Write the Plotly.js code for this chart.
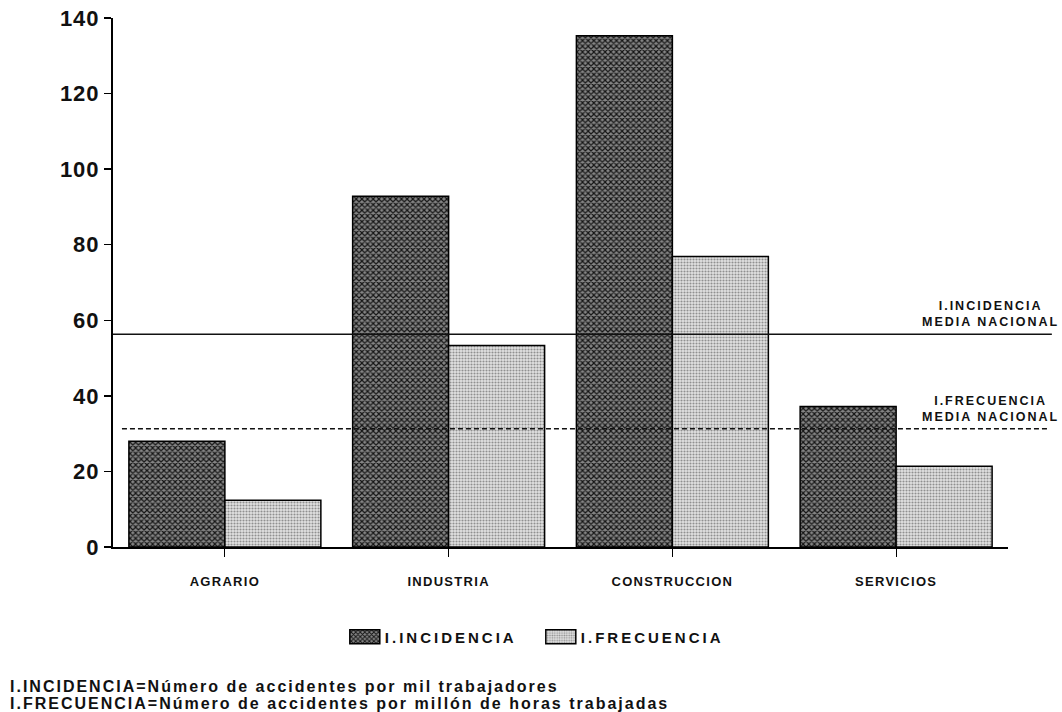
<!DOCTYPE html>
<html>
<head>
<meta charset="utf-8">
<script src="https://cdn.plot.ly/plotly-3.0.1.min.js"></script>
<style>
  html, body { margin: 0; padding: 0; background: #fff; }
  #chart { width: 1062px; height: 712px; }
  .xtick text { letter-spacing: 1.3px; }
  .ytick text { letter-spacing: 1px; }
  .legendtext { letter-spacing: 3px; }
  .annotation-text { letter-spacing: 2px; }
</style>
</head>
<body>
<div id="chart"></div>
<script>
// ---- data ----
const categories = ['AGRARIO', 'INDUSTRIA', 'CONSTRUCCION', 'SERVICIOS'];
const incidencia = [28, 92.8, 135.3, 37.2];
const frecuencia = [12.4, 53.3, 76.9, 21.4];
const seriesNames = ['I.INCIDENCIA', 'I.FRECUENCIA'];
const mediaIncidencia = 56.3;
const mediaFrecuencia = 31.3;
const yTicks = [0, 20, 40, 60, 80, 100, 120, 140];
const refLabels = ['I.INCIDENCIA<br>MEDIA NACIONAL', 'I.FRECUENCIA<br>MEDIA NACIONAL'];
const footnotes = [
  'I.INCIDENCIA=Número de accidentes por mil trabajadores',
  'I.FRECUENCIA=Número de accidentes por millón de horas trabajadas'
];

const FONT = 'Liberation Sans, Arial, Helvetica, sans-serif';

const traces = [
  {
    type: 'bar', name: seriesNames[0], x: categories, y: incidencia,
    marker: {
      color: '#555555',
      pattern: { shape: 'x', fgcolor: '#151515', bgcolor: '#858585', size: 4, solidity: 0.5 },
      line: { color: '#000', width: 1.5 }
    },
    hoverinfo: 'x+y'
  },
  {
    type: 'bar', name: seriesNames[1], x: categories, y: frecuencia,
    marker: {
      color: '#c8c8c8',
      pattern: { shape: '.', fgcolor: '#909090', bgcolor: '#e2e2e2', size: 3, solidity: 0.4 },
      line: { color: '#000', width: 1.5 }
    },
    hoverinfo: 'x+y'
  }
];

const layout = {
  width: 1062, height: 712,
  margin: { l: 113, r: 54, t: 18, b: 165 },
  paper_bgcolor: '#fff', plot_bgcolor: '#fff',
  font: { family: FONT, color: '#111' },
  barmode: 'group', bargap: 0.142, bargroupgap: 0,
  showlegend: true,
  legend: {
    orientation: 'h', xref: 'paper', yref: 'paper',
    x: 0.259, xanchor: 'left', y: -0.17, yanchor: 'middle',
    font: { family: FONT, size: 15, color: '#111', weight: 'bold' },
    itemwidth: 30, entrywidth: 151, entrywidthmode: 'pixels', bgcolor: 'rgba(0,0,0,0)'
  },
  xaxis: {
    type: 'category', range: [-0.5, 3.5],
    showline: true, linecolor: '#000', linewidth: 1.5,
    ticks: 'outside', ticklen: 8, tickcolor: '#000', tickwidth: 1.2,
    ticklabelstandoff: 14,
    tickfont: { family: FONT, size: 13, color: '#111', weight: 'bold' },
    showgrid: false, zeroline: false, fixedrange: true
  },
  yaxis: {
    range: [0, 140], tickmode: 'array', tickvals: yTicks, ticktext: yTicks.map(String),
    showline: true, linecolor: '#000', linewidth: 2,
    ticks: 'outside', ticklen: 7, tickcolor: '#000', tickwidth: 1.5,
    ticklabelstandoff: 0,
    tickfont: { family: FONT, size: 22, color: '#111', weight: 'bold' },
    showgrid: false, zeroline: false, fixedrange: true
  },
  shapes: [
    { type: 'line', xref: 'paper', yref: 'y', x0: 0, x1: 1.049, y0: mediaIncidencia, y1: mediaIncidencia,
      line: { color: '#111', width: 1.5 }, layer: 'above' },
    { type: 'line', xref: 'paper', yref: 'y', x0: 0.01, x1: 1.045, y0: mediaFrecuencia, y1: mediaFrecuencia,
      line: { color: '#111', width: 1.5, dash: '5px,3px' }, layer: 'above' }
  ],
  annotations: [
    { xref: 'paper', yref: 'y', x: 0.98, y: mediaIncidencia, xanchor: 'center', yanchor: 'bottom',
      yshift: 3, showarrow: false, text: refLabels[0], align: 'center',
      font: { family: FONT, size: 12.5, color: '#111', weight: 'bold' } },
    { xref: 'paper', yref: 'y', x: 0.98, y: mediaFrecuencia, xanchor: 'center', yanchor: 'bottom',
      yshift: 3, showarrow: false, text: refLabels[1], align: 'center',
      font: { family: FONT, size: 12.5, color: '#111', weight: 'bold' } },
    { xref: 'paper', yref: 'paper', x: -0.117, y: -0.263, xanchor: 'left', yanchor: 'middle',
      showarrow: false, text: footnotes[0], align: 'left',
      font: { family: FONT, size: 16, color: '#111', weight: 'bold' } },
    { xref: 'paper', yref: 'paper', x: -0.117, y: -0.295, xanchor: 'left', yanchor: 'middle',
      showarrow: false, text: footnotes[1], align: 'left',
      font: { family: FONT, size: 16, color: '#111', weight: 'bold' } }
  ]
};

Plotly.newPlot('chart', traces, layout, { displayModeBar: false, staticPlot: true }).then(function () {
  // widen the legend swatches to look like the wide boxes of the reference
  document.querySelectorAll('.legend .legendpoints path').forEach(function (p) {
    p.setAttribute('d', 'M15,7H-15V-7H15Z');
  });
});
</script>
</body>
</html>
